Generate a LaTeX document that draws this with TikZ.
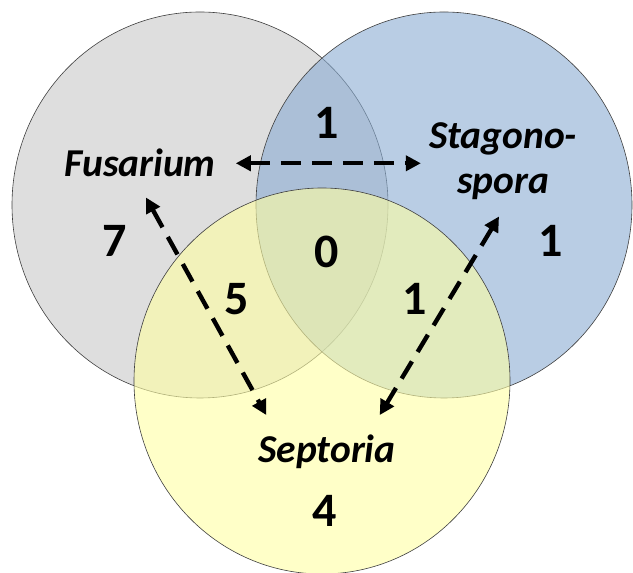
\documentclass[tikz,border=0pt]{standalone}
\usepackage{fontspec}
\setmainfont{Carlito}
\usetikzlibrary{arrows.meta,calc,positioning}
\definecolor{fusgray}{RGB}{200,200,200}
\definecolor{stagblue}{RGB}{138,172,210}
\definecolor{sepyellow}{RGB}{255,255,163}

\begin{document}
\begin{tikzpicture}[
        x=1pt, y=1pt,
        set/.style={draw=black!75, line width=0.6pt, fill opacity=0.6},
        setlabel/.style={font=\fontsize{39.5}{45}\selectfont\bfseries\itshape, inner sep=2pt},
        tally/.style={font=\fontsize{48}{48}\selectfont\bfseries, inner sep=0pt, anchor=base},
        link/.style={line width=4.4pt, dash pattern=on 20pt off 11pt, <->, >={Triangle[length=15pt,width=15pt]}}
    ]
    \useasboundingbox (0,0) rectangle (633,573);
    % sets
    \draw[set, fill=fusgray] (200,368) ellipse [x radius=188pt, y radius=193pt];
    \draw[set, fill=stagblue] (444,368) ellipse [x radius=188pt, y radius=193pt];
    \draw[set, fill=sepyellow] (322,192) ellipse [x radius=188pt, y radius=193pt];
    % names
    \node[setlabel, anchor=base] (fus) at (140,396) {Fusarium};
    \node[setlabel, anchor=north, align=center, inner sep=0pt] (stag) at (503,451) {Stagono-\\spora};
    \node[setlabel, anchor=base] (sep) at (327,110) {Septoria};
    % counts
    \node[tally] (fs) at (327,434) {1};
    \node[tally] (f) at (115,316) {7};
    \node[tally] (s) at (551,316) {1};
    \node[tally] (fss) at (327,305) {0};
    \node[tally] (fsep) at (237,258) {5};
    \node[tally] (ssep) at (415,258) {1};
    \node[tally] (sp) at (325,46) {4};
    % links
    \draw[link, shorten <=18pt, shorten >=8pt] (fus.east) -- (fus.east -| stag.west);
    \draw[link] ([shift={(6,-18)}]fus.south) -- ([shift={(10,18)}]sep.north west);
    \draw[link] ([shift={(-4,-17)}]stag.south) -- ([shift={(-18,18)}]sep.north east);
\end{tikzpicture}
\end{document}
